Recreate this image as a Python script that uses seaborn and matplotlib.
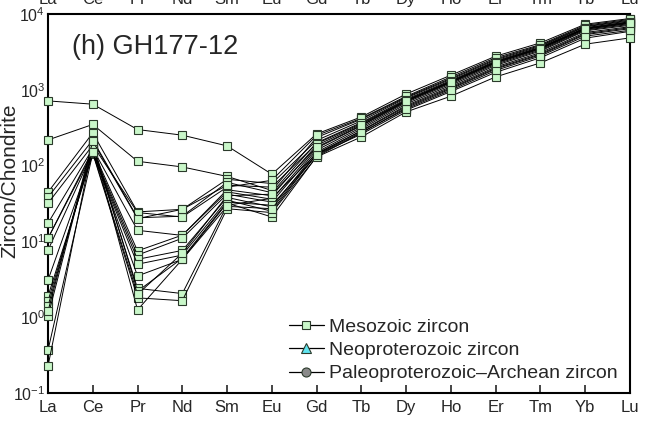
import numpy as np
import pandas as pd
import seaborn as sns
import matplotlib
matplotlib.use("Agg")
import matplotlib.pyplot as plt
from matplotlib.lines import Line2D

# Rare earth elements in chondrite-normalised order
elements = ["La", "Ce", "Pr", "Nd", "Sm", "Eu", "Gd", "Tb", "Dy", "Ho", "Er", "Tm", "Yb", "Lu"]

# Chondrite-normalised REE patterns of individual Mesozoic zircon spots
spot_01 = [714, 646, 299, 252, 182, 77, 262, 439, 880, 1560, 2775, 4160, 7330, 8720]
spot_02 = [218, 349, 114, 96, 72, 47, 235, 410, 800, 1420, 2550, 3850, 6900, 8300]
spot_03 = [44.6, 270, 24.5, 26.5, 66, 58, 215, 390, 780, 1380, 2480, 3750, 6800, 8100]
spot_04 = [38.3, 218, 20.5, 21.5, 60, 44, 200, 370, 750, 1330, 2400, 3650, 6600, 7900]
spot_05 = [31.9, 186, 24, 21, 52, 64, 250, 420, 820, 1480, 2650, 3950, 7100, 8500]
spot_06 = [17.4, 168, 14, 12, 48, 40, 185, 350, 720, 1280, 2320, 3550, 6450, 7700]
spot_07 = [11.0, 160, 7.5, 12.1, 45, 36, 170, 335, 700, 1240, 2250, 3450, 6300, 7500]
spot_08 = [7.65, 150, 6.6, 11, 42, 33, 160, 320, 680, 1200, 2180, 3350, 6150, 7300]
spot_09 = [3.08, 145, 5.8, 7.6, 38, 28.5, 150, 305, 650, 1150, 2100, 3250, 6000, 7100]
spot_10 = [1.89, 141, 5.0, 6.6, 35, 25, 142, 290, 620, 1100, 2000, 3100, 5700, 6800]
spot_11 = [1.63, 155, 3.5, 5.8, 32, 21, 132, 270, 580, 1030, 1880, 2900, 5350, 6400]
spot_12 = [1.40, 175, 2.4, 2.05, 30, 37, 145, 285, 600, 1060, 1930, 2980, 5500, 6600]
spot_13 = [1.03, 200, 2.2, 6.0, 33, 30, 138, 260, 540, 950, 1700, 2650, 4800, 5900]
spot_14 = [0.367, 145, 1.8, 1.65, 27, 24, 130, 239, 511, 824, 1480, 2265, 4000, 4840]
spot_15 = [0.226, 190, 1.25, 5.8, 29, 27, 140, 275, 560, 990, 1800, 2800, 5100, 6100]
spot_16 = [1.2, 210, 20, 26.5, 55, 52, 195, 360, 730, 1300, 2350, 3600, 6500, 7800]
spot_17 = [11.0, 150, 2.0, 7.0, 40, 42, 175, 340, 710, 1260, 2280, 3500, 6350, 7600]

spots = [spot_01, spot_02, spot_03, spot_04, spot_05, spot_06, spot_07, spot_08, spot_09,
         spot_10, spot_11, spot_12, spot_13, spot_14, spot_15, spot_16, spot_17]

legend_labels = ["Mesozoic zircon", "Neoproterozoic zircon", "Paleoproterozoic\u2013Archean zircon"]

rows = []
for i, vals in enumerate(spots):
    for el, v in zip(elements, vals):
        rows.append({"spot": f"s{i+1:02d}", "element": el, "value": v})
df = pd.DataFrame(rows)

sns.set_theme(style="white")
plt.rcParams["font.family"] = ["Liberation Sans", "DejaVu Sans"]
plt.rcParams["mathtext.fontset"] = "custom"
plt.rcParams["mathtext.rm"] = "Liberation Sans"
plt.rcParams["mathtext.it"] = "Liberation Sans"

fig = plt.figure(figsize=(6.51, 4.23), dpi=100)
ax = fig.add_axes([48 / 651, 1 - 393 / 423, 582 / 651, 379 / 423])

green_fill = "#c9f7c9"
edge = "#2b3a2b"

sns.lineplot(data=df, x="element", y="value", units="spot", estimator=None,
             sort=False, color="black", linewidth=0.7, marker="s",
             markersize=6.2, markerfacecolor=green_fill, markeredgecolor=edge,
             markeredgewidth=0.8, ax=ax, legend=False)
for ln in ax.get_lines():
    ln.set_clip_on(False)
    ln.set_zorder(3)

ax.set_yscale("log")
ax.set_ylim(0.1, 1e4)
ax.set_xlim(0, len(elements) - 1)
ax.set_xticks(range(len(elements)))
ax.set_xticklabels(elements)
ax.set_xlabel("")
ax.set_ylabel("Zircon/Chondrite", fontsize=15)
ax.yaxis.set_label_coords(-0.049, 0.56)

ax.tick_params(axis="x", which="major", direction="in", length=6, width=1.2,
               labelsize=12, top=False, labeltop=True, bottom=True, pad=5)
ax.tick_params(axis="y", which="major", direction="in", length=6, width=1.2,
               labelsize=11.5, pad=2)
ax.tick_params(axis="y", which="minor", left=False, right=False)
ax.set_yticks([1e-1, 1e0, 1e1, 1e2, 1e3, 1e4])

for side in ["left", "bottom", "top", "right"]:
    ax.spines[side].set_visible(True)
    ax.spines[side].set_color("black")
    ax.spines[side].set_linewidth(1.5)
    ax.spines[side].set_zorder(2)
ax.grid(False)

ax.text(0.041, 0.913, "(h) GH177-12", transform=ax.transAxes, fontsize=19.5,
        ha="left", va="center")

handles = [
    Line2D([], [], color="black", linewidth=0.9, marker="s", markersize=6.2,
           markerfacecolor=green_fill, markeredgecolor=edge, markeredgewidth=0.8),
    Line2D([], [], color="black", linewidth=0.9, marker="^", markersize=6.5,
           markerfacecolor="#5fe3ee", markeredgecolor=edge, markeredgewidth=0.8),
    Line2D([], [], color="black", linewidth=0.9, marker="o", markersize=6.5,
           markerfacecolor="#8a8a8a", markeredgecolor=edge, markeredgewidth=0.8),
]
ax.legend(handles, legend_labels, loc="upper left", bbox_to_anchor=(0.414, 0.198),
          frameon=False, fontsize=14, handlelength=1.8, handletextpad=0.28,
          labelspacing=0.3, borderpad=0, borderaxespad=0)

fig.savefig("out.png", dpi=100)
